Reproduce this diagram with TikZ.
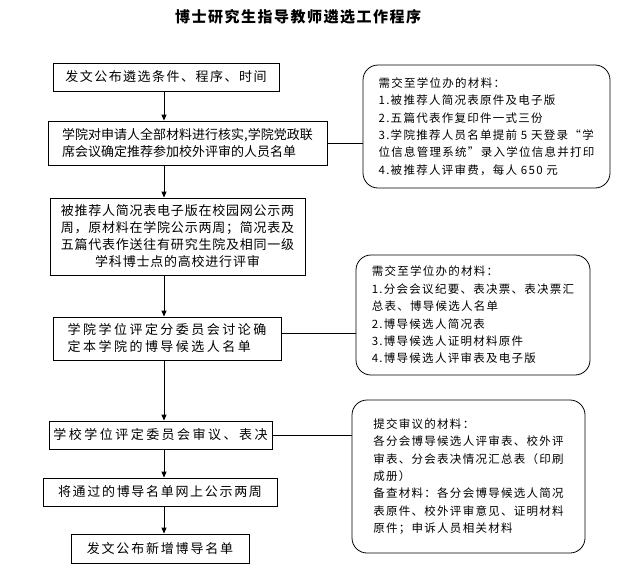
\documentclass[tikz,border=0pt]{standalone}
\usepackage{fontspec}
\setmainfont{Noto Sans CJK SC}
\usetikzlibrary{arrows.meta}

\begin{document}
\begin{tikzpicture}[
        x=1pt, y=-1pt,
        stage/.style={draw, line width=0.8pt, inner sep=0pt},
        spaced/.style={font=\fontsize{13}{17}\selectfont\addfontfeatures{LetterSpace=#1}},
        spaced/.default=0,
        note/.style={draw, line width=0.8pt, rounded corners=15pt, inner sep=0pt, align=left,
            font=\fontsize{11.5}{17.4}\selectfont\addfontfeatures{LetterSpace=11}},
        flow/.style={-{Triangle[length=6pt, width=5pt]}, line width=0.8pt},
        link/.style={line width=0.8pt},
    ]
    \useasboundingbox (0,0) rectangle (627,574);

    % Title
    \node[font=\fontsize{15}{18}\selectfont\bfseries\addfontfeatures{LetterSpace=10}] (title) at (298,17) {博士研究生指导教师遴选工作程序};

    % Main steps
    \node[stage, spaced=11.5, minimum width=226pt, minimum height=28pt] (announce) at (166,77) {发文公布遴选条件、程序、时间};
    \node[stage, spaced, align=left, minimum width=279pt, minimum height=44pt] (verify) at (187.5,143) {学院对申请人全部材料进行核实,学院党政联\\席会议确定推荐参加校外评审的人员名单};
    \node[stage, spaced=6, align=center, minimum width=255pt, minimum height=77pt] (review) at (177.5,236.5) {被推荐人简况表电子版在校园网公示两\\周，原材料在学院公示两周；简况表及\\五篇代表作送往有研究生院及相同一级\\学科博士点的高校进行评审};
    \node[stage, spaced=19, align=left, minimum width=228pt, minimum height=43pt] (college) at (167,338.5) {学院学位评定分委员会讨论确\\定本学院的博导候选人名单};
    \node[stage, spaced=19, minimum width=223pt, minimum height=28pt] (school) at (160.5,435) {学校学位评定委员会审议、表决};
    \node[stage, spaced=13, minimum width=234pt, minimum height=28pt] (publicity) at (160,492) {将通过的博导名单网上公示两周};
    \node[stage, spaced=14, minimum width=178pt, minimum height=29pt] (release) at (160,548.5) {发文公布新增博导名单};

    % Materials
    \node[note, minimum width=247pt, minimum height=123pt] (mat1) at (486.5,126.5) {需交至学位办的材料：\\1.被推荐人简况表原件及电子版\\2.五篇代表作复印件一式三份\\3.学院推荐人员名单提前 5 天登录“学\\位信息管理系统”录入学位信息并打印\\4.被推荐人评审费，每人 650 元};
    \node[note, minimum width=234pt, minimum height=120pt] (mat2) at (473,315) {需交至学位办的材料：\\1.分会会议纪要、表决票、表决票汇\\总表、博导候选人名单\\2.博导候选人简况表\\3.博导候选人证明材料原件\\4.博导候选人评审表及电子版};
    \node[note, minimum width=233pt, minimum height=153pt] (mat3) at (468.5,476.5) {提交审议的材料：\\各分会博导候选人评审表、校外评\\审表、分会表决情况汇总表（印刷\\成册）\\备查材料：各分会博导候选人简况\\表原件、校外评审意见、证明材料\\原件；申诉人员相关材料};

    % Flow
    \coordinate (spine) at (164,0);
    \draw[flow] (announce.south -| spine) -- (verify.north -| spine);
    \draw[flow] (verify.south -| spine) -- (review.north -| spine);
    \draw[flow] (review.south -| spine) -- (college.north -| spine);
    \draw[flow] (college.south -| spine) -- (school.north -| spine);
    \draw[flow] (school.south -| spine) -- (publicity.north -| spine);
    \draw[flow] (publicity.south -| spine) -- (release.north -| spine);

    % Links to materials
    \draw[link] (verify.east) -- (verify.east -| mat1.west);
    \draw[link] ([yshift=5pt]college.east) -- ([yshift=5pt]college.east -| mat2.west);
    \draw[link] (school.east) -- (school.east -| mat3.west);

\end{tikzpicture}
\end{document}
